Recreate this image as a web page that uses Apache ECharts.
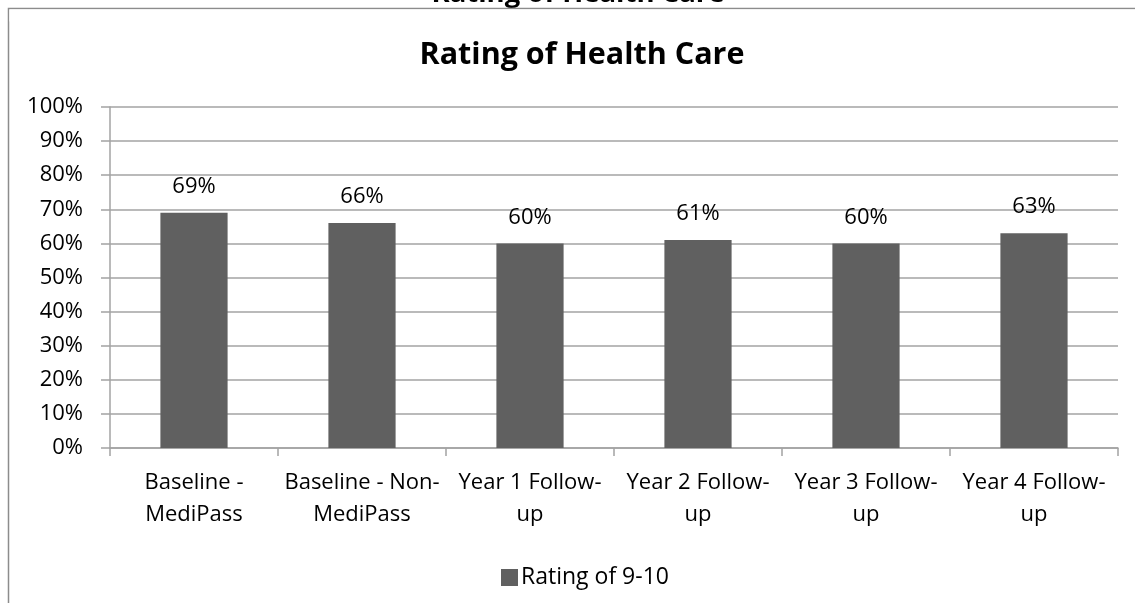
<!DOCTYPE html>
<html>
<head>
<meta charset="utf-8">
<style>
  html, body { margin: 0; padding: 0; background: #fff; }
  #chart { width: 1135px; height: 603px; }
</style>
<script src="https://cdn.jsdelivr.net/npm/echarts@6/dist/echarts.min.js"></script>
</head>
<body>
<div id="chart"></div>
<script>
// Survey periods shown along the x-axis
const categories = [
  'Baseline -\nMediPass',
  'Baseline - Non-\nMediPass',
  'Year 1 Follow-\nup',
  'Year 2 Follow-\nup',
  'Year 3 Follow-\nup',
  'Year 4 Follow-\nup'
];
// Share of respondents giving a rating of 9-10 (percent)
const rating910 = [69, 66, 60, 61, 60, 63];
const seriesName = 'Rating of 9-10';
const chartTitle = 'Rating of Health Care';

const FONT = '"Open Sans", "Liberation Sans", sans-serif';
const GRID_GRAY = '#a3a3a3';
const BAR_GRAY = '#606060';

const chart = echarts.init(document.getElementById('chart'), null, { renderer: 'canvas' });

chart.setOption({
  backgroundColor: '#ffffff',
  animation: false,
  title: {
    text: chartTitle,
    left: 577,
    textAlign: 'center',
    top: 35,
    textStyle: { fontFamily: FONT, fontSize: 30.5, fontWeight: 'bold', color: '#000' }
  },
  graphic: [
    // chart frame: left and top edges
    {
      type: 'polyline',
      silent: true,
      shape: { points: [[8.5, 603], [8.5, 8.5], [1135, 8.5]] },
      style: { stroke: '#8c8c8c', lineWidth: 1.5, fill: null }
    },
    // page heading above the frame, cut off by the top edge
    {
      type: 'text',
      silent: true,
      z: -1,
      style: {
        x: 578, y: 8,
        text: chartTitle,
        font: 'bold 27.5px ' + FONT,
        fill: '#000',
        textAlign: 'center',
        textVerticalAlign: 'bottom'
      }
    },
    // white band that hides the heading below the frame line
    {
      type: 'rect',
      silent: true,
      z: 0,
      shape: { x: 9.5, y: 9.5, width: 1126, height: 12 },
      style: { fill: '#ffffff' }
    }
  ],
  legend: {
    data: [seriesName],
    left: 496,
    top: 561,
    itemWidth: 17,
    itemHeight: 17,
    itemGap: 10,
    icon: 'rect',
    textStyle: { fontFamily: FONT, fontSize: 23, color: '#000', padding: [0, 0, 0, -2] }
  },
  grid: { left: 110, right: 17, top: 107, bottom: 155, containLabel: false },
  xAxis: {
    type: 'category',
    data: categories,
    axisLine: { lineStyle: { color: GRID_GRAY, width: 1.5 } },
    axisTick: { show: true, alignWithLabel: false, interval: 0, length: 8, lineStyle: { color: GRID_GRAY, width: 1.5 } },
    axisLabel: {
      interval: 0,
      margin: 19,
      fontFamily: FONT,
      fontSize: 22,
      lineHeight: 32,
      color: '#000'
    }
  },
  yAxis: {
    type: 'value',
    min: 0,
    max: 100,
    interval: 10,
    axisLine: { show: true, lineStyle: { color: GRID_GRAY, width: 1.5 } },
    axisTick: { show: true, length: 9, lineStyle: { color: GRID_GRAY, width: 1.5 } },
    splitLine: { show: true, lineStyle: { color: GRID_GRAY, width: 1.5 } },
    axisLabel: {
      margin: 27,
      formatter: '{value}%',
      fontFamily: FONT,
      fontSize: 22,
      color: '#000'
    }
  },
  series: [{
    name: seriesName,
    type: 'bar',
    data: rating910,
    barCategoryGap: '60%',
    itemStyle: { color: BAR_GRAY },
    label: {
      show: true,
      position: 'top',
      distance: 15,
      formatter: '{c}%',
      fontFamily: FONT,
      fontSize: 22,
      color: '#000'
    }
  }]
});
</script>
</body>
</html>
